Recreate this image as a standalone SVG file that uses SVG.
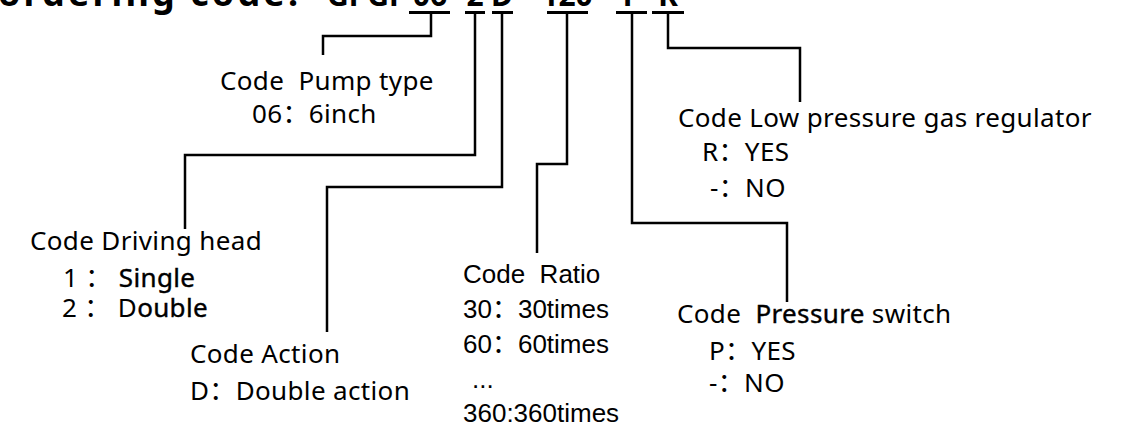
<svg xmlns="http://www.w3.org/2000/svg" width="1125" height="428" viewBox="0 0 1125 428">
<style>
  text { white-space: pre; }
  .t { font-family: "Noto Sans", "Open Sans", "Noto Sans CJK SC", sans-serif; font-size: 26px; letter-spacing: 0.35px; fill: #000; }
  .r { font-family: "Liberation Sans", Arial, "Noto Sans CJK SC", sans-serif; font-size: 26px; fill: #000; }
  .title { font-family: "Noto Sans", "Open Sans", sans-serif; font-size: 30px; font-weight: bold; fill: #000; }
  .b { stroke: #000; stroke-width: 0.4px; }
  .bar { stroke: #000; stroke-width: 3; fill: none; }
  .ln { stroke: #000; stroke-width: 2.5; fill: none; stroke-linejoin: miter; }
</style>
<rect width="1125" height="428" fill="#fff"/>
<g id="title">
  <text class="title" y="6"><tspan x="-2" font-size="36" textLength="300">ordering code:</tspan><tspan x="327">GPGP</tspan><tspan x="430" text-anchor="middle">06</tspan><tspan x="475" text-anchor="middle">2</tspan><tspan x="502" text-anchor="middle">D</tspan><tspan x="567" text-anchor="middle">120</tspan><tspan x="632" text-anchor="middle">P</tspan><tspan x="668" text-anchor="middle">R</tspan></text>
</g>
<g id="connectors">
  <path class="bar" d="M409 12.5H450M465 12.5H485M492 12.5H513M547 12.5H588M616 12.5H647M652 12.5H684"/>
  <path class="ln" d="M431 12.5V36H323V55"/>
  <path class="ln" d="M475 12.5V155H185V229"/>
  <path class="ln" d="M502 12.5V187H327V332"/>
  <path class="ln" d="M567 12.5V164H537V253"/>
  <path class="ln" d="M632 12.5V223H787V302"/>
  <path class="ln" d="M668 12.5V48H800V102"/>
</g>
<g id="pump-type">
  <text class="t" x="220" y="90">Code  Pump type</text>
  <text class="t" x="252" y="123">06：6inch</text>
</g>
<g id="driving-head">
  <text class="t" x="30" y="250">Code Driving head</text>
  <text class="t" x="63" y="287">1 ： <tspan class="b">Single</tspan></text>
  <text class="t" x="62" y="317">2 ： D<tspan class="b">ouble</tspan></text>
</g>
<g id="action">
  <text class="t" x="190" y="363">Code Action</text>
  <text class="t" x="190" y="400">D：Double action</text>
</g>
<g id="ratio">
  <text class="r" x="463" y="283">Code  Ratio</text>
  <text class="r" x="463" y="318">30：30times</text>
  <text class="r" x="463" y="353">60：60times</text>
  <text class="r" x="472" y="388" font-size="18">...</text>
  <text class="r" x="463" y="422">360:360times</text>
</g>
<g id="low-pressure">
  <text class="t" x="678" y="127">Code Low pressure gas regulator</text>
  <text class="t" x="702" y="161">R：YES</text>
  <text class="t" x="710" y="197">-：NO</text>
</g>
<g id="pressure-switch">
  <text class="t" x="677" y="323">Code  <tspan class="b">Pressure</tspan> switch</text>
  <text class="t" x="709" y="360">P：YES</text>
  <text class="t" x="709" y="392">-：NO</text>
</g>
</svg>
